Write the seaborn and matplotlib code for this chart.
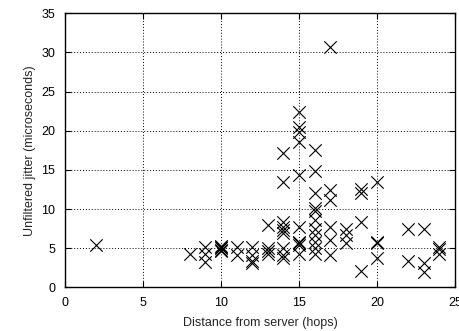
import matplotlib
matplotlib.use("Agg")
import matplotlib.pyplot as plt
import seaborn as sns
import pandas as pd

hops = [2, 8, 9, 9, 9, 10, 10, 10, 10, 10, 11, 11, 12, 12, 12, 12,
        13, 13, 13, 13,
        14, 14, 14, 14, 14, 14, 14, 14, 14,
        15, 15, 15, 15, 15, 15, 15, 15, 15, 15,
        16, 16, 16, 16, 16, 16, 16, 16, 16, 16, 16,
        17, 17, 17, 17, 17, 17,
        18, 18, 18,
        19, 19, 19, 19,
        20, 20, 20, 20,
        22, 22, 23, 23, 23, 24, 24, 24]
jitter = [5.4, 4.3, 5.2, 4.3, 3.2, 5.3, 5.0, 4.8, 4.6, 5.1, 5.2, 4.1, 5.2, 4.1, 3.3, 3.1,
          7.9, 5.0, 4.6, 4.3,
          17.2, 13.4, 8.4, 7.7, 7.3, 6.9, 5.0, 4.1, 3.7,
          22.4, 20.5, 19.9, 18.6, 14.3, 7.7, 5.8, 5.6, 5.4, 4.3,
          17.5, 14.9, 12.0, 10.1, 9.7, 8.6, 7.5, 6.7, 5.8, 5.0, 4.3,
          30.7, 12.4, 11.1, 7.7, 6.0, 4.1,
          7.5, 6.7, 5.6,
          12.5, 12.1, 8.4, 2.1,
          13.5, 5.8, 5.6, 3.7,
          7.4, 3.4, 7.4, 3.1, 1.9, 5.2, 4.9, 4.3]

df = pd.DataFrame({"hops": hops, "jitter": jitter})

sns.set_style("white")
plt.rcParams['font.family'] = ['Liberation Sans', 'DejaVu Sans']

fig = plt.figure(figsize=(4.6, 3.31), dpi=100)
ax = fig.add_axes([65/460, 1-287.3/331, 390/460, 274/331])

sns.scatterplot(data=df, x="hops", y="jitter", marker="x", color="black",
                s=80, linewidth=0.8, ax=ax, legend=False)

ax.set_xlim(0, 25)
ax.set_ylim(0, 35)
ax.set_xticks([0, 5, 10, 15, 20, 25])
ax.set_yticks([0, 5, 10, 15, 20, 25, 30, 35])
ax.grid(True, color="black", linestyle=(0, (1, 2)), linewidth=0.7)
ax.set_axisbelow(True)
for sp in ax.spines.values():
    sp.set_color("black")
    sp.set_linewidth(1.0)
ax.tick_params(axis="both", direction="in", length=4, width=0.8, labelsize=9,
               colors="black", top=True, right=True, bottom=True, left=True)
ax.tick_params(axis="x", pad=7)
ax.tick_params(axis="y", pad=7)
ax.set_xlabel("Distance from server (hops)", fontsize=9, labelpad=6)
ax.set_ylabel("Unfiltered jitter (microseconds)", fontsize=9, labelpad=4)

fig.savefig("out.png", dpi=100)
